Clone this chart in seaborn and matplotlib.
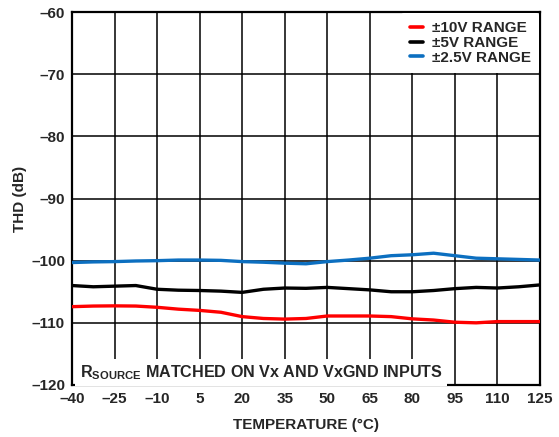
import numpy as np
import pandas as pd
import matplotlib
matplotlib.use("Agg")
import matplotlib.pyplot as plt
import seaborn as sns
from matplotlib.ticker import FuncFormatter

temperature = [-40, -32.5, -25, -17.5, -10, -2.5, 5, 12.5, 20, 27.5, 35, 42.5,
               50, 57.5, 65, 72.5, 80, 87.5, 95, 102.5, 110, 117.5, 125]

thd_10v = [-107.4, -107.3, -107.27, -107.3, -107.5, -107.8, -108.0, -108.3,
           -109.0, -109.3, -109.4, -109.3, -108.9, -108.9, -108.9, -109.0,
           -109.36, -109.55, -109.9, -110.0, -109.8, -109.8, -109.8]

thd_5v = [-104.0, -104.2, -104.1, -104.0, -104.6, -104.75, -104.8, -104.9,
          -105.1, -104.6, -104.4, -104.45, -104.3, -104.5, -104.7, -105.0,
          -105.0, -104.8, -104.5, -104.3, -104.4, -104.2, -103.9]

thd_2v5 = [-100.3, -100.2, -100.15, -100.05, -100.0, -99.9, -99.9, -99.95,
           -100.15, -100.25, -100.4, -100.5, -100.15, -99.9, -99.6, -99.2,
           -99.05, -98.8, -99.2, -99.6, -99.7, -99.8, -99.9]

series_names = ["±10V RANGE", "±5V RANGE", "±2.5V RANGE"]
series_colors = ["#FF0000", "#000000", "#0C6FC0"]

x_ticks = [-40, -25, -10, 5, 20, 35, 50, 65, 80, 95, 110, 125]
y_ticks = [-120, -110, -100, -90, -80, -70, -60]

df = pd.concat([
    pd.DataFrame({"temp": temperature, "thd": vals, "range": name})
    for name, vals in zip(series_names, [thd_10v, thd_5v, thd_2v5])
])

sns.set_style("white")
plt.rcParams["font.family"] = ["Liberation Sans", "DejaVu Sans"]
plt.rcParams["font.weight"] = "bold"
plt.rcParams["mathtext.fontset"] = "custom"
plt.rcParams["mathtext.rm"] = "Liberation Sans:bold"
plt.rcParams["mathtext.bf"] = "Liberation Sans:bold"

FS = 11

fig = plt.figure(figsize=(5.59, 4.37), dpi=100)
ax = fig.add_axes([0.1288, 0.119, 0.966 - 0.1288, 0.9725 - 0.119])

sns.lineplot(data=df, x="temp", y="thd", hue="range", hue_order=series_names,
             palette=series_colors, linewidth=2.4, ax=ax, zorder=3)

ax.set_xlim(-40, 125)
ax.set_ylim(-120, -60)
ax.set_xticks(x_ticks)
ax.set_yticks(y_ticks)
dash_fmt = FuncFormatter(lambda v, p: f"{v:g}".replace("-", "\u2013"))
ax.xaxis.set_major_formatter(dash_fmt)
ax.yaxis.set_major_formatter(dash_fmt)
ax.tick_params(length=0, labelsize=FS, pad=5)
for lbl in ax.get_xticklabels() + ax.get_yticklabels():
    lbl.set_fontweight("bold")

ax.grid(True, color="black", linewidth=1.1, zorder=1)
ax.set_axisbelow(True)
for s in ax.spines.values():
    s.set_visible(True)
    s.set_color("black")
    s.set_linewidth(1.6)

ax.set_xlabel("TEMPERATURE (°C)", fontsize=FS, fontweight="bold", labelpad=9)
ax.set_ylabel("THD (dB)", fontsize=FS, fontweight="bold", labelpad=3)

leg = ax.legend(loc="upper right", frameon=True, fontsize=FS, handlelength=0.9,
                handletextpad=0.55, borderaxespad=0.05, borderpad=0.55,
                labelspacing=0.05, facecolor="white", edgecolor="white",
                framealpha=1.0)
leg.get_frame().set_linewidth(0)
for t in leg.get_texts():
    t.set_fontweight("bold")
for h in leg.get_lines():
    h.set_linewidth(2.6)

ax.text(-37.3, -118.0, r"R$_{\mathrm{SOURCE}}$ MATCHED ON Vx AND VxGND INPUTS",
        fontsize=11.6, fontweight="bold", ha="left", va="center", zorder=4,
        bbox=dict(facecolor="white", edgecolor="none", pad=3))

fig.savefig("out.png", dpi=100)
